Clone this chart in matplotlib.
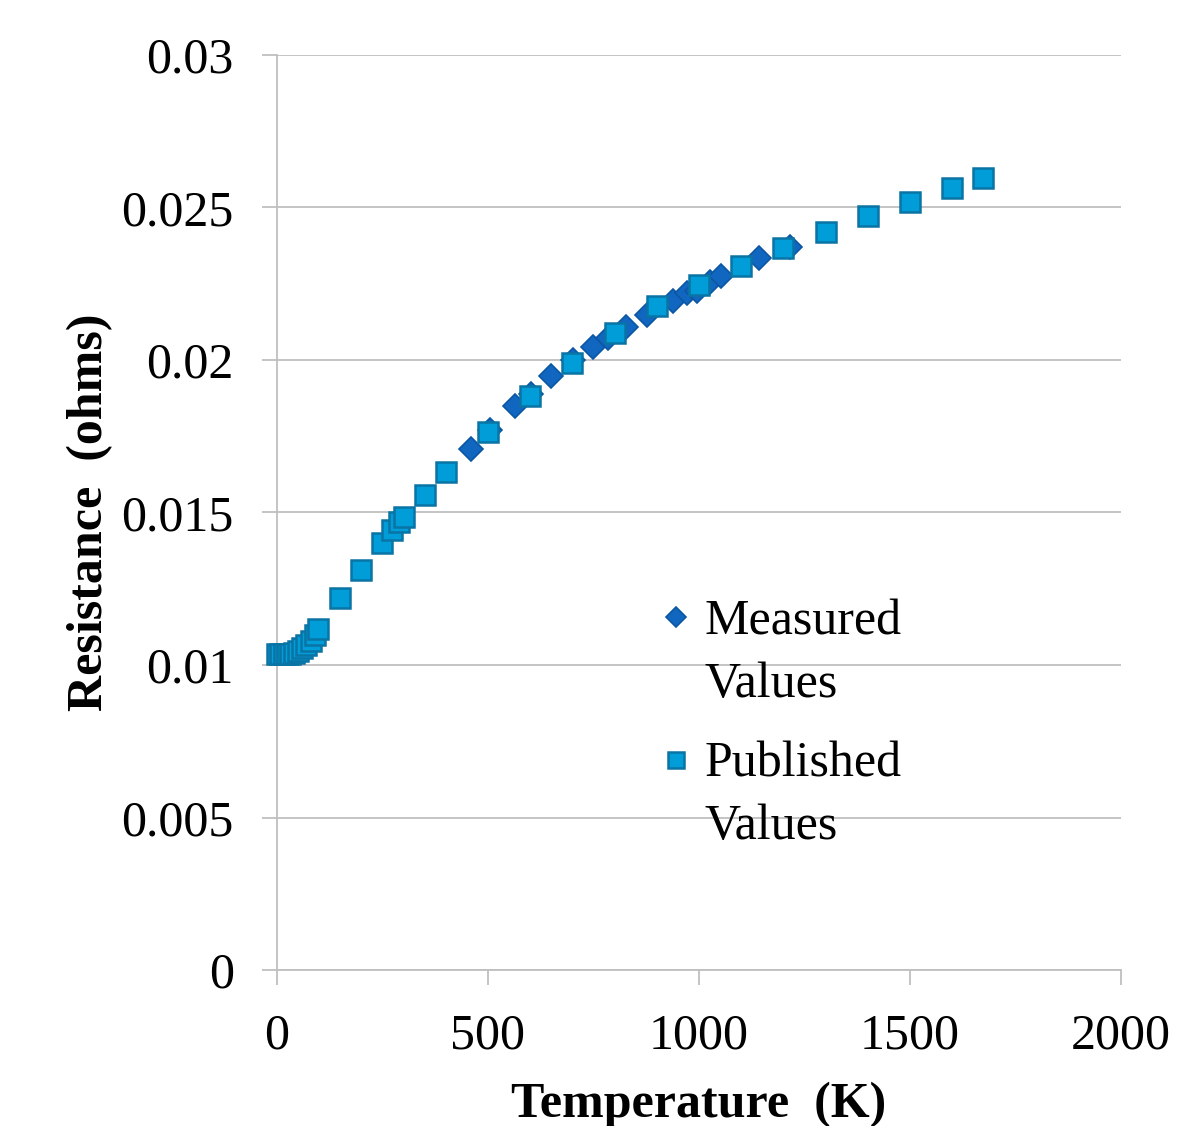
import matplotlib
matplotlib.use("Agg")
from matplotlib import pyplot as plt

plt.rcParams['font.family'] = ['Liberation Serif', 'DejaVu Serif']

# Published values (squares)
pub_temp = [0, 8, 16, 24, 32, 40, 50, 60, 70, 80, 90, 97,
            150, 200, 250, 273, 290, 300, 350, 400, 500, 600, 700,
            800, 900, 1000, 1100, 1200, 1300, 1400, 1500, 1600, 1673]
pub_res = [0.01035, 0.01035, 0.01035, 0.01035, 0.01035, 0.01038, 0.01045,
           0.01055, 0.01065, 0.01078, 0.01098, 0.01118,
           0.0122, 0.0131, 0.0140, 0.01443, 0.01469, 0.01485, 0.01557,
           0.01633, 0.01764, 0.01882, 0.0199, 0.02089, 0.02177, 0.02246,
           0.02308, 0.02367, 0.0242, 0.02472, 0.02518, 0.02564, 0.02597]

# Measured values (diamonds)
meas_temp = [460, 505, 564, 603, 649, 701, 749, 784, 827, 877, 938, 972,
             995, 1026, 1052, 1142, 1216]
meas_res = [0.01708, 0.0177, 0.01849, 0.0189, 0.01947, 0.0200, 0.02043,
            0.02072, 0.02108, 0.02148, 0.02193, 0.0222, 0.02226, 0.02256,
            0.02275, 0.02334, 0.0237]

diamond_style = dict(marker='D', markerfacecolor='#1166C0',
                     markeredgecolor='#0C56A3', markeredgewidth=1.2)
square_style = dict(marker='s', markerfacecolor='#009DD9',
                    markeredgecolor='#0A74A4', markeredgewidth=1.8)

fig = plt.figure(figsize=(11.77, 11.26), dpi=100)
ax = fig.add_axes([0.2353, 0.1385, 0.7171, 0.8127])

ax.plot(meas_temp, meas_res, linestyle='none', markersize=12,
        zorder=3, clip_on=False, **diamond_style)
ax.plot(pub_temp, pub_res, linestyle='none', markersize=14,
        zorder=4, clip_on=False, **square_style)

ax.set_xlim(0, 2000)
ax.set_ylim(0, 0.03)
ax.set_xticks([0, 500, 1000, 1500, 2000])
ax.set_yticks([0, 0.005, 0.01, 0.015, 0.02, 0.025, 0.03])
ax.set_yticklabels(['0', '0.005', '0.01', '0.015', '0.02', '0.025', '0.03'])

ax.grid(axis='y', color='#BFBFBF', linewidth=1.3)
ax.set_axisbelow(True)
for s in ['top', 'right']:
    ax.spines[s].set_visible(False)
for s in ['left', 'bottom']:
    ax.spines[s].set_color('#BFBFBF')
    ax.spines[s].set_linewidth(1.3)
ax.tick_params(axis='both', colors='#BFBFBF', length=11, width=1.3,
               labelsize=36, labelcolor='black')
ax.tick_params(axis='x', pad=20)
ax.tick_params(axis='y', pad=20)

ax.set_xlabel('Temperature  (K)', fontsize=36, fontweight='bold', labelpad=16)
ax.set_ylabel('Resistance  (ohms)', fontsize=36, fontweight='bold', labelpad=6)

# legend drawn by hand so the marker sits beside the first line
ax.plot([0.4727], [0.3858], transform=ax.transAxes, clip_on=False,
        markersize=10, **diamond_style)
ax.plot([0.4727], [0.2295], transform=ax.transAxes, clip_on=False,
        markersize=11, **square_style)
for y, s in [(0.3800, 'Measured'), (0.3120, 'Values'),
             (0.2250, 'Published'), (0.1570, 'Values')]:
    ax.text(0.5071, y, s, transform=ax.transAxes, fontsize=36,
            va='center', ha='left')

fig.savefig('out.png', dpi=100)
